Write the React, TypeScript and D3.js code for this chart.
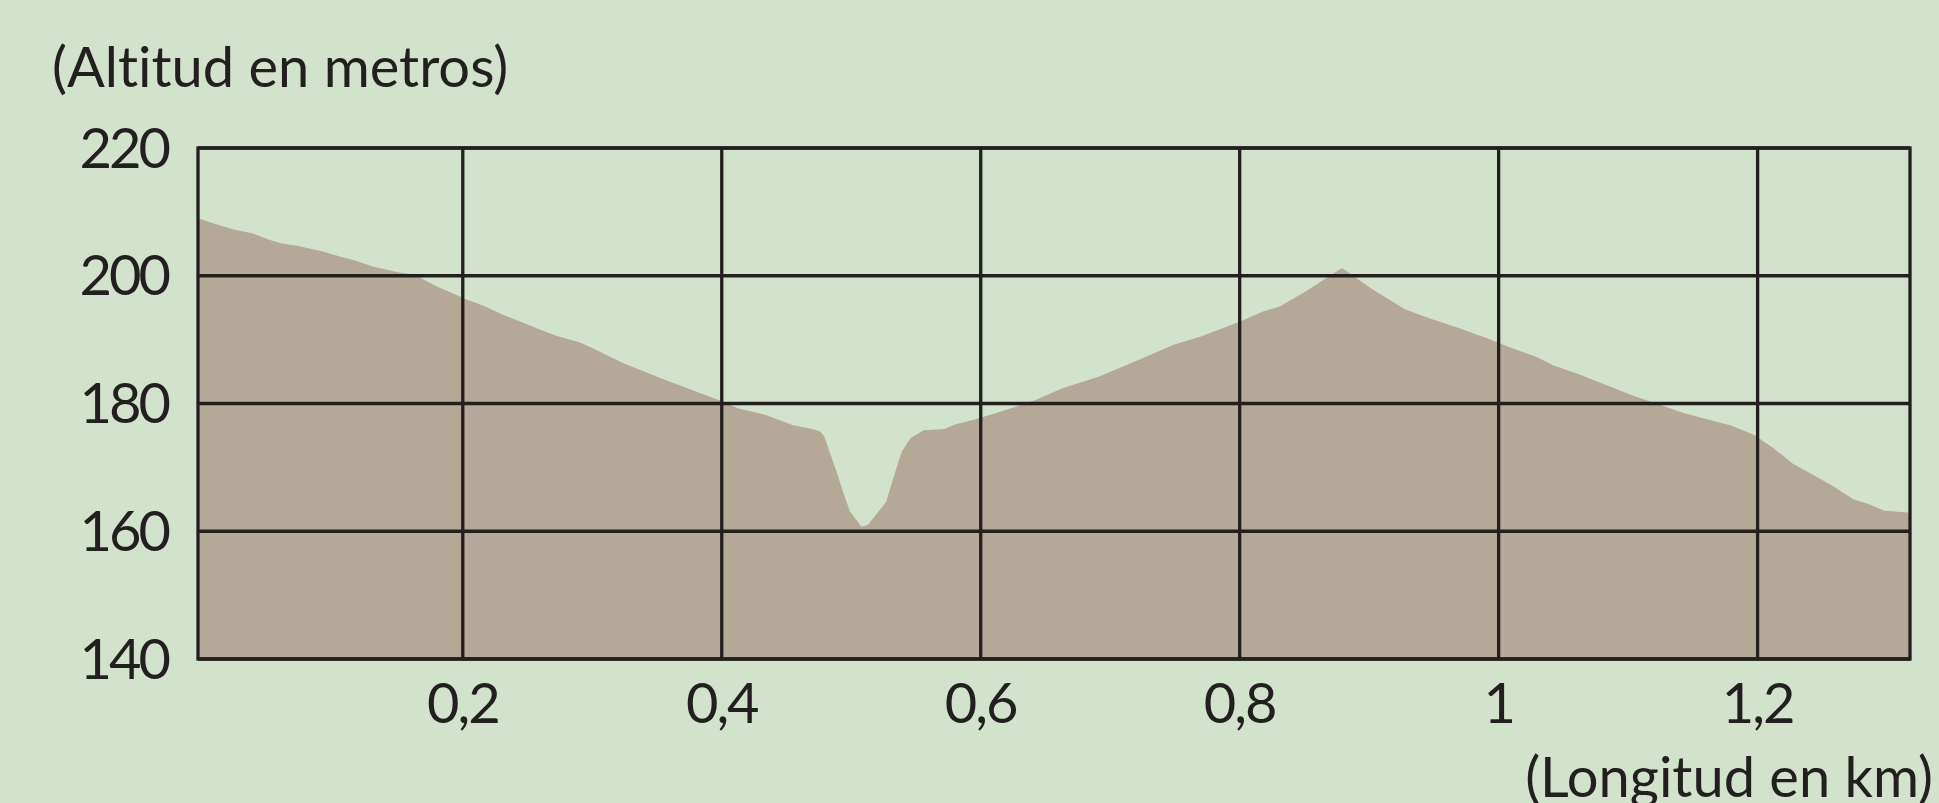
import * as d3 from 'd3';
import { useEffect, useRef } from 'react';

const width = 1939;
const height = 803;
const marginLeft = 198;
const marginRight = 29;
const marginTop = 148;
const marginBottom = 144;

// Perfil: distancia (km) y altitud (m)
const distances = [
  -0.0045, 0.012, 0.024, 0.038, 0.051, 0.061, 0.072, 0.092, 0.105, 0.118, 0.131, 0.151, 0.164,
  0.169, 0.18, 0.193, 0.203, 0.216, 0.231, 0.247, 0.257, 0.272, 0.29, 0.298, 0.324, 0.355, 0.398,
  0.413, 0.434, 0.455, 0.47, 0.476, 0.479, 0.489, 0.494, 0.499, 0.508, 0.513, 0.527, 0.532, 0.539,
  0.546, 0.556, 0.572, 0.58, 0.594, 0.615, 0.642, 0.663, 0.691, 0.725, 0.749, 0.77, 0.8, 0.818,
  0.831, 0.849, 0.879, 0.903, 0.928, 0.947, 0.968, 0.991, 1.006, 1.029, 1.042, 1.063, 1.083, 1.104,
  1.117, 1.143, 1.171, 1.179, 1.197, 1.211, 1.227, 1.243, 1.258, 1.274, 1.285, 1.298, 1.3177,
];
const altitudes = [
  209.0, 207.9, 207.2, 206.6, 205.6, 205.0, 204.7, 203.8, 203.0, 202.3, 201.4, 200.5, 200.1,
  199.5, 198.3, 197.2, 196.3, 195.3, 193.9, 192.6, 191.8, 190.6, 189.6, 188.9, 186.3, 183.8, 180.5,
  179.2, 178.2, 176.6, 176.0, 175.6, 174.9, 169.1, 166.0, 163.1, 160.7, 161.0, 164.6, 168.0, 172.5,
  174.6, 175.8, 176.0, 176.7, 177.4, 178.7, 180.5, 182.4, 184.2, 187.1, 189.2, 190.5, 192.8, 194.4,
  195.2, 197.3, 201.2, 197.8, 194.7, 193.3, 191.9, 190.2, 189.0, 187.3, 186.0, 184.5, 182.9, 181.2,
  180.3, 178.5, 177.0, 176.6, 175.1, 173.2, 170.6, 168.8, 167.1, 165.0, 164.3, 163.2, 162.9,
];

const xTicks = [0.2, 0.4, 0.6, 0.8, 1, 1.2];
const yTicks = [140, 160, 180, 200, 220];
const yTitle = '(Altitud en metros)';
const xTitle = '(Longitud en km)';

const bg = '#d3e2cd';
const fillColor = '#b4a896';
const ink = '#231f20';
const font = 'Lato, "Open Sans", sans-serif';
const fontSize = 56;

export default function App() {
  const ref = useRef<HTMLDivElement>(null);

  useEffect(() => {
    if (!ref.current) return;
    document.body.style.margin = '0';

    const x = d3
      .scaleLinear()
      .domain([distances[0], distances[distances.length - 1]])
      .range([marginLeft, width - marginRight]);
    const y = d3
      .scaleLinear()
      .domain([140, 220])
      .range([height - marginBottom, marginTop]);

    const data = distances.map((d, i) => ({ d, a: altitudes[i] }));

    const svg = d3.create('svg').attr('width', width).attr('height', height).style('display', 'block');

    svg.append('rect').attr('width', width).attr('height', height).attr('fill', bg);

    // área del perfil
    const area = d3
      .area<{ d: number; a: number }>()
      .x((p) => x(p.d))
      .y0(y(140))
      .y1((p) => y(p.a));
    svg.append('path').datum(data).attr('fill', fillColor).attr('d', area);

    // cuadrícula
    const grid = svg.append('g').attr('stroke', ink).attr('stroke-width', 3.3);
    grid
      .selectAll('line.h')
      .data(yTicks)
      .join('line')
      .attr('class', 'h')
      .attr('x1', x.range()[0])
      .attr('x2', x.range()[1])
      .attr('y1', (d) => y(d))
      .attr('y2', (d) => y(d));
    grid
      .selectAll('line.v')
      .data(xTicks)
      .join('line')
      .attr('class', 'v')
      .attr('x1', (d) => x(d))
      .attr('x2', (d) => x(d))
      .attr('y1', y(220))
      .attr('y2', y(140));
    grid
      .append('rect')
      .attr('x', x.range()[0])
      .attr('y', y(220))
      .attr('width', x.range()[1] - x.range()[0])
      .attr('height', y(140) - y(220))
      .attr('fill', 'none');

    // etiquetas
    const labels = svg
      .append('g')
      .attr('fill', ink)
      .attr('font-family', font)
      .attr('font-size', fontSize)
      .style('font-variant-ligatures', 'none');

    labels
      .selectAll('text.y')
      .data(yTicks)
      .join('text')
      .attr('class', 'y')
      .attr('x', 168)
      .attr('y', (d) => y(d))
      .attr('dy', '0.35em')
      .attr('text-anchor', 'end')
      .attr('letter-spacing', -3)
      .text((d) => String(d));

    labels
      .selectAll('text.x')
      .data(xTicks)
      .join('text')
      .attr('class', 'x')
      .attr('x', (d) => x(d))
      .attr('y', 723)
      .attr('text-anchor', 'middle')
      .attr('letter-spacing', -2)
      .text((d) => String(d).replace('.', ','));

    labels.append('text').attr('x', 52).attr('y', 87).text(yTitle);
    labels.append('text').attr('x', 1933).attr('y', 797).attr('text-anchor', 'end').text(xTitle);

    ref.current.innerHTML = '';
    ref.current.appendChild(svg.node()!);
  }, []);

  return <div ref={ref} />;
}
